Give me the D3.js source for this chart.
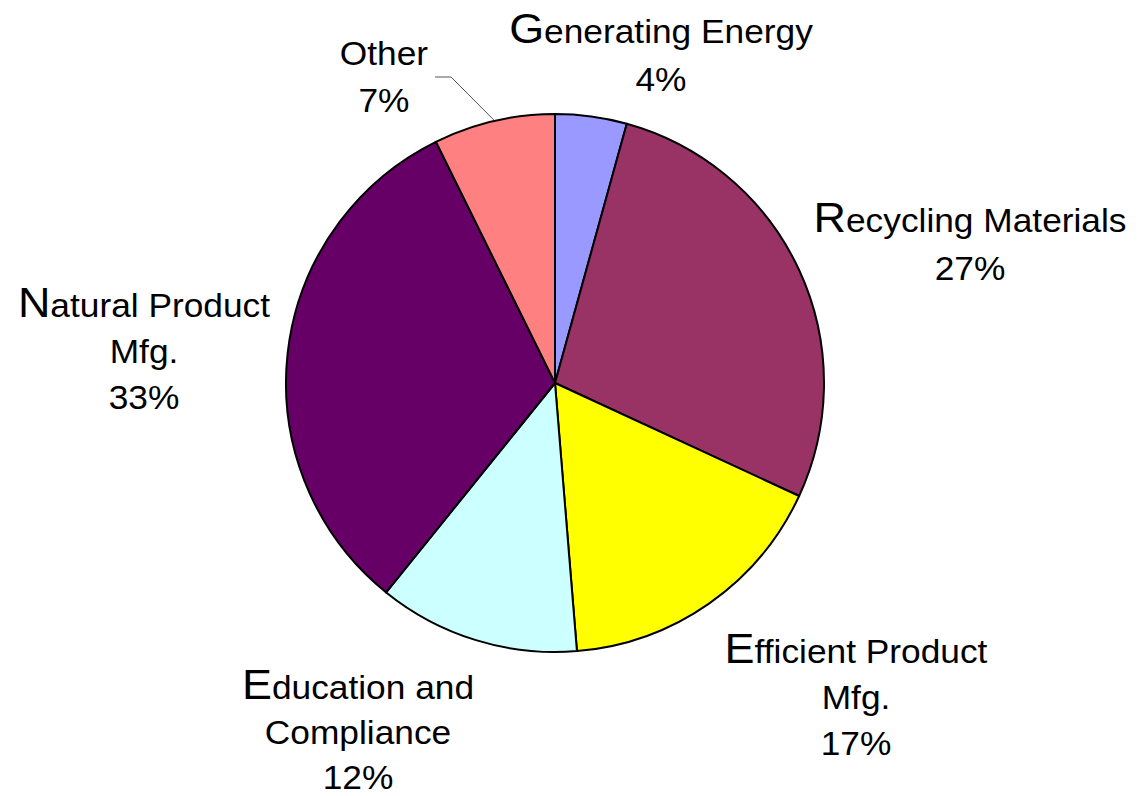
<!DOCTYPE html>
<html>
<head>
<meta charset="utf-8">
<script src="https://cdn.jsdelivr.net/npm/d3@7"></script>
<style>
  body { margin: 0; background: #fff; }
  text { font-family: "Liberation Sans", Arial, sans-serif; fill: #000; }
</style>
</head>
<body>
<div id="pie"></div>
<script>
// slices clockwise from 12 o'clock
var categories = ["Generating Energy", "Recycling Materials", "Efficient Product Mfg.", "Education and Compliance", "Natural Product Mfg.", "Other"]
var values = [4.3, 27.6, 16.8, 12.1, 31.9, 7.3]
var pctLabels = ["4%", "27%", "17%", "12%", "33%", "7%"]
// label text broken into lines as in the chart
var labelLines = [
  ["Generating Energy"],
  ["Recycling Materials"],
  ["Efficient Product", "Mfg."],
  ["Education and", "Compliance"],
  ["Natural Product", "Mfg."],
  ["Other"]
]
var colors = ["#9999ff", "#993366", "#ffff00", "#ccffff", "#660066", "#ff8080"]

var width = 1138, height = 796
var cx = 555, cy = 383, radius = 269

var svg = d3.select("#pie")
  .append("svg")
  .attr("width", width)
  .attr("height", height)

var data = categories.map(function (c, i) {
  return { name: c, value: values[i], pct: pctLabels[i], lines: labelLines[i], color: colors[i] }
})

var pie = d3.pie()
  .sort(null)
  .value(function (d) { return d.value })

var arc = d3.arc().innerRadius(0).outerRadius(radius)

var g = svg.append("g")
  .attr("transform", "translate(" + cx + "," + cy + ")")

var arcs = pie(data)

g.selectAll("path")
  .data(arcs)
  .enter()
  .append("path")
  .attr("d", arc)
  .style("fill", function (d) { return d.data.color })
  .style("stroke", "#000")
  .style("stroke-width", 2)
  .style("stroke-linejoin", "round")

// label anchor points (centre x, first baseline y, line gap), placed by hand like Excel does
var labelPos = [
  [661, 43, 48],
  [970, 232, 48],
  [856, 663, 46],
  [358, 699, 45],
  [144, 317, 46],
  [384, 65, 47]
]

var labels = svg.append("g")

arcs.forEach(function (d, i) {
  var lines = d.data.lines.concat([d.data.pct])
  // the text in the original is a little wide, so stretch it sideways
  var t = labels.append("text")
    .attr("transform", "translate(" + labelPos[i][0] + ",0) scale(1.07,1)")
    .attr("text-anchor", "middle")
    .attr("font-size", 33)
  lines.forEach(function (ln, j) {
    var row = t.append("tspan")
      .attr("x", 0)
      .attr("y", labelPos[i][1] + j * labelPos[i][2])
    if (j == 0 && d.data.name != "Other") {
      // first letter is drawn bigger
      row.append("tspan").attr("font-size", 42).text(ln.charAt(0))
      row.append("tspan").text(ln.slice(1))
    } else {
      row.text(ln)
    }
  })
})

// leader line for the small "Other" slice, ends on the rim at the slice middle
var midA = (arcs[5].startAngle + arcs[5].endAngle) / 2
var rimX = cx + Math.sin(midA) * radius
var rimY = cy - Math.cos(midA) * radius
svg.append("polyline")
  .attr("points", [[435, 77], [451, 77], [rimX, rimY - 1]].map(function (p) { return p.join(",") }).join(" "))
  .style("fill", "none")
  .style("stroke", "#555")
  .style("stroke-width", 1)
</script>
</body>
</html>
